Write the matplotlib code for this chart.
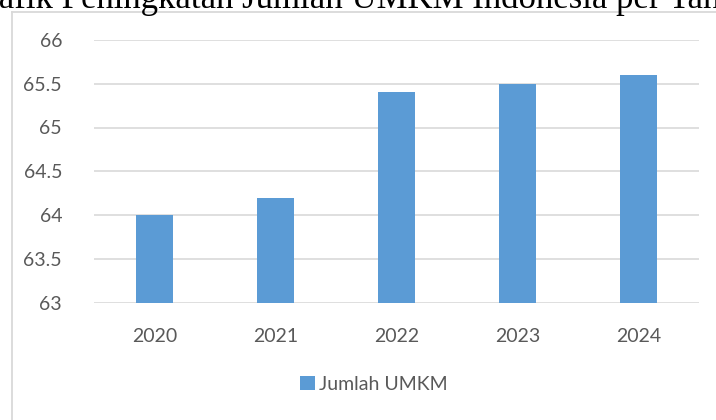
import matplotlib.pyplot as plt
from matplotlib.lines import Line2D

years = ["2020", "2021", "2022", "2023", "2024"]
jumlah_umkm = [64.0, 64.2, 65.4, 65.5, 65.6]
y_ticks = [63, 63.5, 64, 64.5, 65, 65.5, 66]
y_tick_labels = ["63", "63.5", "64", "64.5", "65", "65.5", "66"]
title_text = "Grafik Peningkatan Jumlah UMKM Indonesia per Tahun"

W, H = 716, 420
BAR_COLOR = "#5b9bd5"
GRID_COLOR = "#d9d9d9"
TEXT_COLOR = "#595959"
FONT = "Lato"

fig = plt.figure(figsize=(W / 100, H / 100), dpi=100)

# chart frame (only left and top edge visible in the crop)
fig.add_artist(Line2D([11.5 / W, 11.5 / W], [0, 1 - 11.5 / H],
                      transform=fig.transFigure, color=GRID_COLOR, lw=1.3))
fig.add_artist(Line2D([11.5 / W, 1], [1 - 11.5 / H, 1 - 11.5 / H],
                      transform=fig.transFigure, color=GRID_COLOR, lw=1.3))

# document title, cut off at the top of the screenshot
t = fig.text(0, 1 - 7.5 / H, title_text, family="Liberation Serif",
             fontsize=25, color="black", ha="left", va="baseline")
fig.canvas.draw()
r = fig.canvas.get_renderer()
probe = fig.text(0, 0, "Gr", family="Liberation Serif", fontsize=25)
off = probe.get_window_extent(r).width
probe.remove()
t.set_x(-(off + 1) / W)

ax = fig.add_axes([94 / W, 1 - 302.5 / H, (699 - 94) / W, (302.5 - 40) / H])
x = range(len(years))
ax.bar(x, jumlah_umkm, width=0.31, color=BAR_COLOR, label="Jumlah UMKM",
       zorder=3)
ax.set_xlim(-0.5, len(years) - 0.5)
ax.set_ylim(63, 66)
ax.set_yticks(y_ticks)
ax.set_yticklabels(y_tick_labels)
ax.set_xticks(list(x))
ax.set_xticklabels(years)
ax.yaxis.grid(True, color=GRID_COLOR, lw=1.2, zorder=0)
ax.tick_params(length=0, labelsize=14, labelcolor=TEXT_COLOR)
ax.tick_params(axis="y", pad=23)
ax.tick_params(axis="x", pad=18)
for lab in ax.get_xticklabels() + ax.get_yticklabels():
    lab.set_family(FONT)
for s in ax.spines.values():
    s.set_visible(False)

fig.legend(loc="center", bbox_to_anchor=(374 / W, 1 - 384 / H), frameon=False,
           handlelength=0.75, handleheight=0.75, handletextpad=0.25,
           prop={"family": FONT, "size": 14}, labelcolor=TEXT_COLOR)

fig.savefig("out.png", dpi=100)
